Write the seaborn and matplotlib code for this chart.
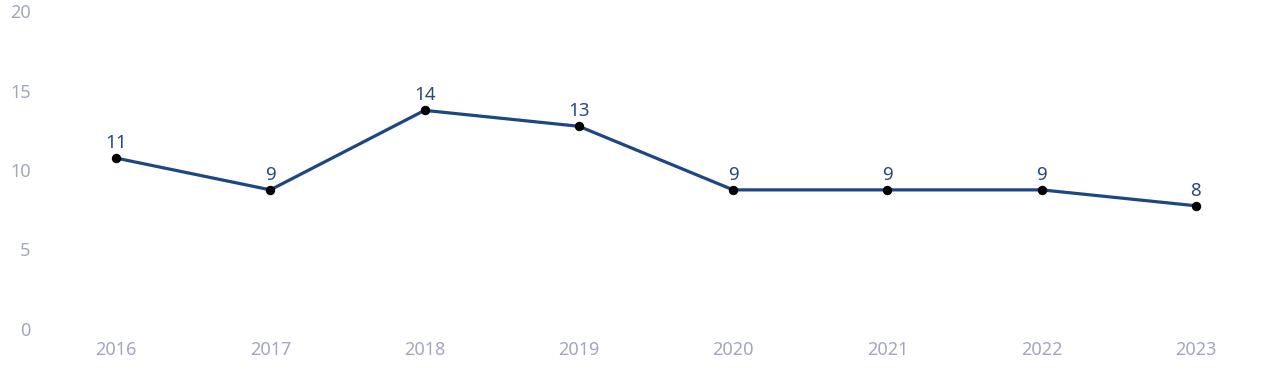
import matplotlib
matplotlib.use("Agg")
import matplotlib.pyplot as plt
import seaborn as sns
import pandas as pd

years = [2016, 2017, 2018, 2019, 2020, 2021, 2022, 2023]
values = [10.75, 8.75, 13.75, 12.75, 8.75, 8.75, 8.75, 7.75]
labels = ["11", "9", "14", "13", "9", "9", "9", "8"]
yticks = [0, 5, 10, 15, 20]

sns.set_theme(style="white")
plt.rcParams['font.family'] = ['Noto Sans', 'DejaVu Sans']

df = pd.DataFrame({"year": years, "value": values})

fig = plt.figure(figsize=(12.8, 3.82), dpi=100)
ax = fig.add_axes([39/1280, 53/382, (1273-39)/1280, (329-11)/382])

sns.lineplot(data=df, x="year", y="value", ax=ax, color="#1c4783", linewidth=2.3,
             marker="o", markersize=6, markerfacecolor="black", markeredgecolor="black")

for x, y, t in zip(years, values, labels):
    ax.annotate(t, (x, y), xytext=(0, 4.5), textcoords="offset points",
                ha="center", va="bottom", fontsize=13.5, color="#2a4a7f")

ax.set_xlim(2015.5, 2023.5)
ax.set_ylim(0, 20)
ax.set_yticks(yticks)
ax.set_xticks(years)
ax.set_xticklabels([str(y) for y in years])
ax.tick_params(axis="both", colors="#a3a6c0", labelsize=13, length=0)
ax.tick_params(axis="x", pad=8.5)
ax.tick_params(axis="y", pad=6)
ax.set_xlabel("")
ax.set_ylabel("")
for s in ax.spines.values():
    s.set_visible(False)
ax.grid(False)

fig.savefig("out.png", dpi=100)
